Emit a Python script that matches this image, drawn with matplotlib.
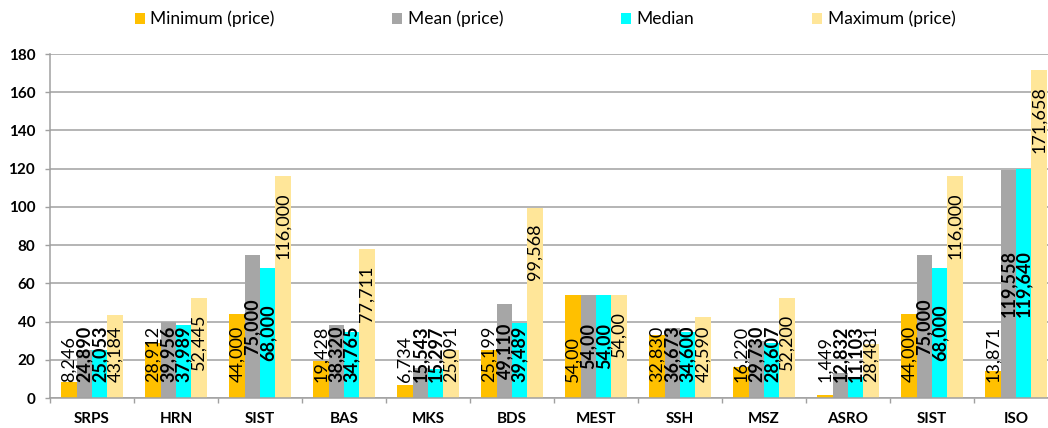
import matplotlib
matplotlib.use("Agg")
import matplotlib.pyplot as plt
from matplotlib.patches import Patch
import numpy as np

categories = ["SRPS", "HRN", "SIST", "BAS", "MKS", "BDS", "MEST", "SSH", "MSZ", "ASRO", "SIST", "ISO"]

minimum = [8.246, 28.912, 44.000, 19.428, 6.734, 25.199, 54.00, 32.830, 16.220, 1.449, 44.000, 13.871]
mean = [24.890, 39.956, 75.000, 38.320, 15.543, 49.110, 54.00, 36.673, 29.730, 12.832, 75.000, 119.558]
median = [25.053, 37.989, 68.000, 34.765, 15.297, 39.489, 54.00, 34.600, 28.607, 11.103, 68.000, 119.640]
maximum = [43.184, 52.445, 116.000, 77.711, 25.091, 99.568, 54.00, 42.590, 52.200, 28.481, 116.000, 171.658]

min_labels = ["8,246", "28,912", "44,000", "19,428", "6,734", "25,199", "54,00", "32,830", "16,220", "1,449", "44,000", "13,871"]
mean_labels = ["24,890", "39,956", "75,000", "38,320", "15,543", "49,110", "54,00", "36,673", "29,730", "12,832", "75,000", "119,558"]
median_labels = ["25,053", "37,989", "68,000", "34,765", "15,297", "39,489", "54,00", "34,600", "28,607", "11,103", "68,000", "119,640"]
max_labels = ["43,184", "52,445", "116,000", "77,711", "25,091", "99,568", "54,00", "42,590", "52,200", "28,481", "116,000", "171,658"]

series_names = ["Minimum (price)", "Mean (price)", "Median", "Maximum (price)"]
colors = ["#FFC000", "#A6A6A6", "#00FFFF", "#FFE699"]
y_ticks = [0, 20, 40, 60, 80, 100, 120, 140, 160, 180]

plt.rcParams["font.family"] = ["Lato", "DejaVu Sans"]

W, H = 1048, 428
fig = plt.figure(figsize=(W / 100, H / 100), dpi=100)
ax = fig.add_axes([50 / W, 30 / H, 1008 / W, 344 / H])

grid_color = "#A0A0A0"
x = np.arange(len(categories))
bar_w = 0.182
offsets = (np.arange(4) - 1.5) * bar_w

series = [minimum, mean, median, maximum]
labels = [min_labels, mean_labels, median_labels, max_labels]
modes = ["base", "center", "center", "end"]
weights = ["normal", "bold", "bold", "normal"]

texts = []
for k in range(4):
    ax.bar(x + offsets[k], series[k], width=bar_w, color=colors[k], zorder=2)
    for j in range(len(categories)):
        t = ax.text(x[j] + offsets[k], 0, labels[k][j], rotation=90,
                    ha="center", va="bottom", fontsize=13,
                    fontweight=weights[k], color="black", zorder=3)
        texts.append((t, series[k][j], modes[k]))

ax.set_xlim(-0.5, len(categories) - 0.5)
ax.set_ylim(0, 180)
ax.set_yticks(y_ticks)
ax.set_yticklabels([str(v) for v in y_ticks], fontsize=11, fontweight="bold")
ax.set_xticks(x)
ax.set_xticklabels(categories, fontsize=11, fontweight="bold")
ax.set_xticks(np.arange(-0.5, len(categories)), minor=True)
ax.tick_params(axis="x", which="major", length=0, pad=10)
ax.tick_params(axis="x", which="minor", length=3.6, width=1, color=grid_color)
ax.tick_params(axis="y", length=3.6, width=1, color=grid_color, pad=7)

ax.yaxis.grid(True, color=grid_color, linewidth=1.1, zorder=0)
ax.set_axisbelow(True)
for s in ["top", "right"]:
    ax.spines[s].set_visible(False)
for s in ["left", "bottom"]:
    ax.spines[s].set_color(grid_color)
    ax.spines[s].set_linewidth(1.1)

# Place data labels: minimum at the base, mean/median at bar centre,
# maximum inside the bar end; nothing sits lower than the base margin.
fig.canvas.draw()
renderer = fig.canvas.get_renderer()
inv = ax.transData.inverted()
base_px = ax.transData.transform((0, 0))[1]
margin = 16
for t, val, mode in texts:
    ext = t.get_window_extent(renderer)
    length = ext.height
    top_px = ax.transData.transform((0, val))[1]
    if mode == "base":
        bottom = base_px + margin
    elif mode == "center":
        bottom = (base_px + top_px) / 2 - length / 2
    else:
        bottom = top_px - margin - length
    bottom = max(bottom, base_px + margin)
    xd, _ = t.get_position()
    t.set_position((xd, inv.transform((0, bottom))[1]))

handles = [Patch(facecolor=c, edgecolor="none") for c in colors]
fig.legend(handles, series_names, loc="center", bbox_to_anchor=(545 / W, 1 - 19 / H),
           ncol=4, frameon=False, fontsize=12.5, handlelength=0.58, handleheight=0.58,
           handletextpad=0.3, columnspacing=6.8)

fig.savefig("out.png", dpi=100)
